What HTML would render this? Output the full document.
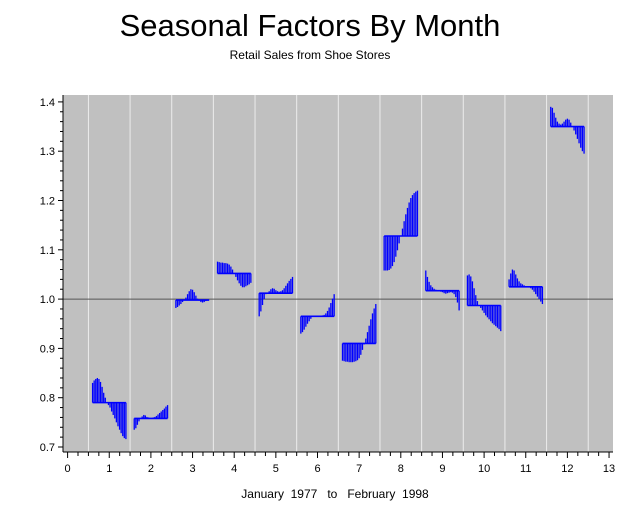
<!DOCTYPE html>
<html><head><meta charset="utf-8"><style>
body{margin:0;background:#fff;}
svg{display:block;font-family:"Liberation Sans",sans-serif;}
</style></head><body>
<svg id="chart" width="621" height="508" viewBox="0 0 621 508">
<text x="310" y="36" text-anchor="middle" font-size="31">Seasonal Factors By Month</text>
<text x="310" y="59" text-anchor="middle" font-size="12">Retail Sales from Shoe Stores</text>
<rect x="63" y="95" width="550" height="357" fill="#c0c0c0"/>
<g id="grid"></g><g id="marks"></g><g id="axes"></g>
<text x="335" y="498" text-anchor="middle" font-size="12" xml:space="preserve">January  1977   to   February  1998</text>
</svg>
<script>
const months=[1,2,3,4,5,6,7,8,9,10,11,12];
const means=[0.79,0.758,0.998,1.052,1.012,0.965,0.91,1.128,1.017,0.987,1.025,1.35];
const m1=[0.830,0.835,0.838,0.840,0.838,0.832,0.822,0.810,0.800,0.790,0.785,0.780,0.772,0.765,0.758,0.750,0.742,0.735,0.728,0.722,0.718,0.716];
const m2=[0.735,0.738,0.745,0.752,0.758,0.762,0.765,0.764,0.761,0.760,0.759,0.759,0.760,0.761,0.763,0.766,0.769,0.772,0.775,0.778,0.782,0.785];
const m3=[0.982,0.984,0.987,0.990,0.994,0.998,1.003,1.010,1.016,1.020,1.019,1.014,1.007,1.001,0.997,0.994,0.993,0.994,0.996,0.997,0.998];
const m4=[1.076,1.075,1.074,1.074,1.073,1.073,1.072,1.070,1.066,1.060,1.052,1.045,1.038,1.032,1.027,1.024,1.024,1.026,1.028,1.030,1.033];
const m5=[0.965,0.975,0.988,1.000,1.010,1.013,1.016,1.020,1.022,1.021,1.018,1.016,1.015,1.016,1.018,1.022,1.027,1.032,1.037,1.041,1.045];
const m6=[0.930,0.933,0.938,0.944,0.950,0.955,0.960,0.964,0.965,0.966,0.966,0.966,0.966,0.967,0.968,0.971,0.976,0.983,0.992,1.001,1.010];
const m7=[0.875,0.874,0.873,0.873,0.872,0.872,0.872,0.873,0.874,0.876,0.880,0.887,0.897,0.908,0.920,0.933,0.946,0.959,0.971,0.981,0.990];
const m8=[1.058,1.058,1.058,1.059,1.062,1.067,1.075,1.086,1.099,1.113,1.128,1.143,1.158,1.172,1.185,1.196,1.205,1.211,1.215,1.218,1.220];
const m9=[1.058,1.045,1.035,1.028,1.024,1.021,1.019,1.018,1.016,1.015,1.014,1.012,1.011,1.012,1.013,1.014,1.013,1.010,1.004,0.993,0.977];
const m10=[1.048,1.050,1.046,1.036,1.022,1.008,0.996,0.988,0.982,0.977,0.972,0.967,0.963,0.959,0.955,0.951,0.948,0.945,0.942,0.939,0.935];
const m11=[1.040,1.052,1.060,1.058,1.050,1.042,1.036,1.032,1.030,1.028,1.026,1.025,1.024,1.022,1.019,1.015,1.010,1.005,1.000,0.995,0.990];
const m12=[1.390,1.388,1.378,1.368,1.360,1.356,1.354,1.356,1.360,1.364,1.366,1.364,1.358,1.350,1.342,1.334,1.325,1.316,1.307,1.300,1.295];
const series=[m1,m2,m3,m4,m5,m6,m7,m8,m9,m10,m11,m12];
const yTicks=[0.7,0.8,0.9,1.0,1.1,1.2,1.3,1.4];
const xTicks=[0,1,2,3,4,5,6,7,8,9,10,11,12,13];

const NS="http://www.w3.org/2000/svg";
const X=v=>67.6+v*41.65;
const Y=v=>447-(v-0.7)*493;
function mk(tag,attrs,parent){const e=document.createElementNS(NS,tag);for(const k in attrs)e.setAttribute(k,attrs[k]);parent.appendChild(e);return e;}
const grid=document.getElementById('grid'),marks=document.getElementById('marks'),axes=document.getElementById('axes');
for(let i=0;i<xTicks.length-1;i++){
  const x=X(xTicks[i]+0.5);
  const l=mk('line',{x1:x,x2:x,y1:95,y2:452,stroke:'#ececec','stroke-width':1},grid);
  
  
}
const ref=mk('line',{x1:63,x2:613,y1:Y(1),y2:Y(1),stroke:'#555','stroke-width':1},grid);


months.forEach((m,i)=>{
  const vals=series[i],n=vals.length,mean=means[i];
  const g=mk('g',{},marks);
  
  
  vals.forEach((v,j)=>{
    const x=X(m-0.4+0.8*j/(n-1));
    mk('line',{x1:x,x2:x,y1:Y(mean),y2:Y(v),stroke:'#0000ff','stroke-width':1.3},g);
  });
  mk('line',{x1:X(m-0.4),x2:X(m+0.4),y1:Y(mean),y2:Y(mean),stroke:'#0000ff','stroke-width':1.6},g);
});
mk('line',{x1:63,x2:63,y1:95,y2:452,stroke:'#000'},axes);
mk('line',{x1:63,x2:613,y1:452,y2:452,stroke:'#000'},axes);
for(let v=0.7;v<=1.4001;v+=0.02){
  const major=Math.abs(v*10-Math.round(v*10))<1e-6;
  mk('line',{x1:major?58:60,x2:63,y1:Y(v),y2:Y(v),stroke:'#000'},axes);
}
yTicks.forEach(t=>{
  const tx=mk('text',{x:55,y:Y(t)+4,'text-anchor':'end','font-size':11},axes);
  tx.textContent=t.toFixed(1);
  
  
});
for(let v=0;v<=13.001;v+=0.25){
  const major=Math.abs(v-Math.round(v))<1e-6;
  mk('line',{x1:X(v),x2:X(v),y1:452,y2:major?458:456,stroke:'#000'},axes);
}
xTicks.forEach(t=>{
  const tx=mk('text',{x:X(t),y:472,'text-anchor':'middle','font-size':11},axes);
  tx.textContent=t;
  
  
});
</script>
</body></html>
